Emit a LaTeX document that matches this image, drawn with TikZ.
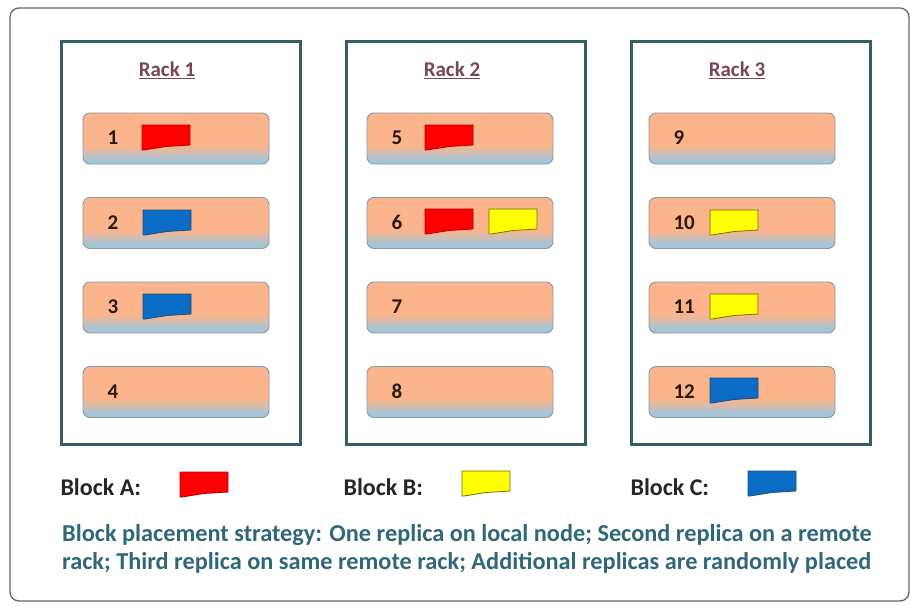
\documentclass[tikz,border=0pt]{standalone}
\usepackage{fontspec}
\setmainfont{Carlito}
\usetikzlibrary{calc}
\definecolor{rackline}{HTML}{345F66}
\definecolor{racktext}{HTML}{7A4652}
\definecolor{npeach}{HTML}{FBB48C}
\definecolor{nblue}{HTML}{A3C6D8}
\definecolor{nborder}{HTML}{8A98A4}
\definecolor{numtext}{HTML}{2A1A12}
\definecolor{capt}{HTML}{2F6878}
\definecolor{bred}{HTML}{FF0000}
\definecolor{bredb}{HTML}{B00000}
\definecolor{byel}{HTML}{FFFF00}
\definecolor{byelb}{HTML}{7F6A00}
\definecolor{bblue}{HTML}{0A6CC4}
\definecolor{bblueb}{HTML}{1F4E79}
\pgfdeclareverticalshading{nodeshade}{100bp}{color(0bp)=(nblue); color(25bp)=(nblue); color(29bp)=(nblue); color(43bp)=(npeach); color(100bp)=(npeach)}
\tikzset{
  frame/.style={draw=black!60, line width=1.3pt, rounded corners=9pt},
  rackbox/.style={draw=rackline, line width=3pt},
  racklabel/.style={font=\bfseries\fontsize{21}{24}\selectfont, text=racktext},
  srv/.style={draw=nborder, line width=0.9pt, rounded corners=7pt, shading=nodeshade},
  num/.style={font=\bfseries\fontsize{21}{24}\selectfont, text=numtext, anchor=west},
  legend/.style={font=\bfseries\fontsize{24}{26}\selectfont, text=black!85, anchor=west},
  caption/.style={font=\bfseries\fontsize{24.3}{28}\selectfont, text=capt, anchor=base west, inner sep=0pt},
  blk/.pic={\draw[pic actions, line width=0.8pt] (0,0)--(48,0)--(48,20)--(24,21.5)--(2,25)--(0,25)--cycle;},
  redblk/.style={fill=bred, draw=bredb},
  yelblk/.style={fill=byel, draw=byelb},
  blublk/.style={fill=bblue, draw=bblueb},
}
\begin{document}
\begin{tikzpicture}[x=1pt, y=-1pt]
\useasboundingbox (0,0) rectangle (910,605);
\fill[white] (0,0) rectangle (910,605);
\draw[frame] (10,8) rectangle (909,601);
% racks
\foreach \rl/\r in {61/1, 346/2, 631/3} {
  \draw[rackbox] (\rl,41) rectangle ++(239,403);
  \node[racklabel] (rack\r) at (\rl+106,70) {\underline{Rack \r}};
}
% servers
\foreach \sl/\first in {83/1, 367/5, 649/9} {
  \foreach \k in {0,1,2,3} {
    \pgfmathtruncatemacro{\n}{\first+\k}
    \draw[srv] (\sl,113+84.5*\k) rectangle ++(186,51);
    \node[num] (n\n) at (\sl+21,138+84.5*\k) {\n};
  }
}
% blocks
\pic[redblk] at (142,125) {blk};
\pic[blublk] at (143,210) {blk};
\pic[blublk] at (143,294) {blk};
\pic[redblk] at (425,125) {blk};
\pic[redblk] at (425,209) {blk};
\pic[yelblk] at (489,209) {blk};
\pic[yelblk] at (710,210) {blk};
\pic[yelblk] at (710,294) {blk};
\pic[blublk] at (710,378) {blk};
% legend
\node[legend] (la) at (57,487) {Block A:};
\pic[redblk] at (180,472) {blk};
\node[legend] (lb) at (340,487) {Block B:};
\pic[yelblk] at (462,471) {blk};
\node[legend] (lc) at (627,487) {Block C:};
\pic[blublk] at (748,471) {blk};
\node[caption] (cap1) at (62,541) {Block placement strategy: One replica on local node; Second replica on a remote};
\node[caption] (cap2) at (62,569) {rack; Third replica on same remote rack; Additional replicas are randomly placed};
\end{tikzpicture}
\end{document}
